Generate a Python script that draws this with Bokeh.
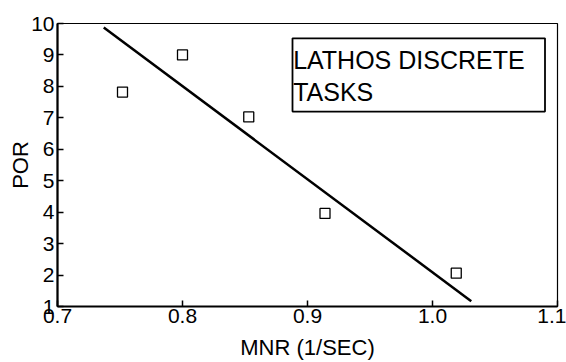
from bokeh.plotting import figure
from bokeh.models import Range1d, FixedTicker, Label, BoxAnnotation
from bokeh.embed import file_html
from bokeh.resources import INLINE

mnr = [0.752, 0.80, 0.853, 0.914, 1.019]
por = [7.82, 9.0, 7.03, 3.96, 2.06]
fit_x = [0.737, 1.031]
fit_y = [9.87, 1.17]
x_ticks = [0.7, 0.8, 0.9, 1.0, 1.1]
y_ticks = [1, 2, 3, 4, 5, 6, 7, 8, 9, 10]

FONT = "Liberation Sans"

p = figure(width=566, height=362, output_backend="svg", toolbar_location=None,
           x_range=Range1d(0.7, 1.1), y_range=Range1d(1, 10),
           min_border_left=57, min_border_right=9, min_border_top=23, min_border_bottom=55)
p.grid.visible = False
p.outline_line_color = "black"
p.outline_line_width = 1.2
p.background_fill_color = "white"
p.border_fill_color = "white"

p.xaxis.ticker = FixedTicker(ticks=x_ticks)
p.yaxis.ticker = FixedTicker(ticks=y_ticks)
p.xaxis.major_label_overrides = {0.7: "0.7", 0.8: "0.8", 0.9: "0.9", 1.0: "1.0", 1.1: "1.1"}
for ax in (p.xaxis, p.yaxis):
    ax.axis_line_width = 2.2
    ax.axis_line_color = "black"
    ax.major_tick_in = 6
    ax.major_tick_out = 0
    ax.major_tick_line_width = 1.5
    ax.minor_tick_line_color = None
    ax.major_label_text_font = FONT
    ax.major_label_text_font_size = "21px"
    ax.major_label_text_color = "black"
    ax.axis_label_text_font = FONT
    ax.axis_label_text_font_size = "22px"
    ax.axis_label_text_font_style = "normal"
    ax.axis_label_text_color = "black"
p.xaxis.axis_label = "MNR (1/SEC)"
p.yaxis.axis_label = "POR"
p.xaxis.major_label_standoff = 2
p.yaxis.major_label_standoff = 3
p.xaxis.axis_label_standoff = 9
p.yaxis.axis_label_standoff = -5

p.line(fit_x, fit_y, line_color="black", line_width=2.5)
p.scatter(mnr, por, marker="square", size=10, fill_color="white",
          line_color="black", line_width=1.3)

p.add_layout(BoxAnnotation(left=0.888, right=1.090, top=9.53, bottom=7.2,
                           fill_color="white", fill_alpha=1.0,
                           line_color="black", line_alpha=1.0, line_width=1.8))
p.add_layout(Label(x=0.8885, y=9.28, text="LATHOS DISCRETE\nTASKS",
                   text_font=FONT, text_font_size="25px", text_color="black",
                   text_baseline="top", text_line_height=1.15))

open("out.html", "w").write(file_html(p, INLINE))
